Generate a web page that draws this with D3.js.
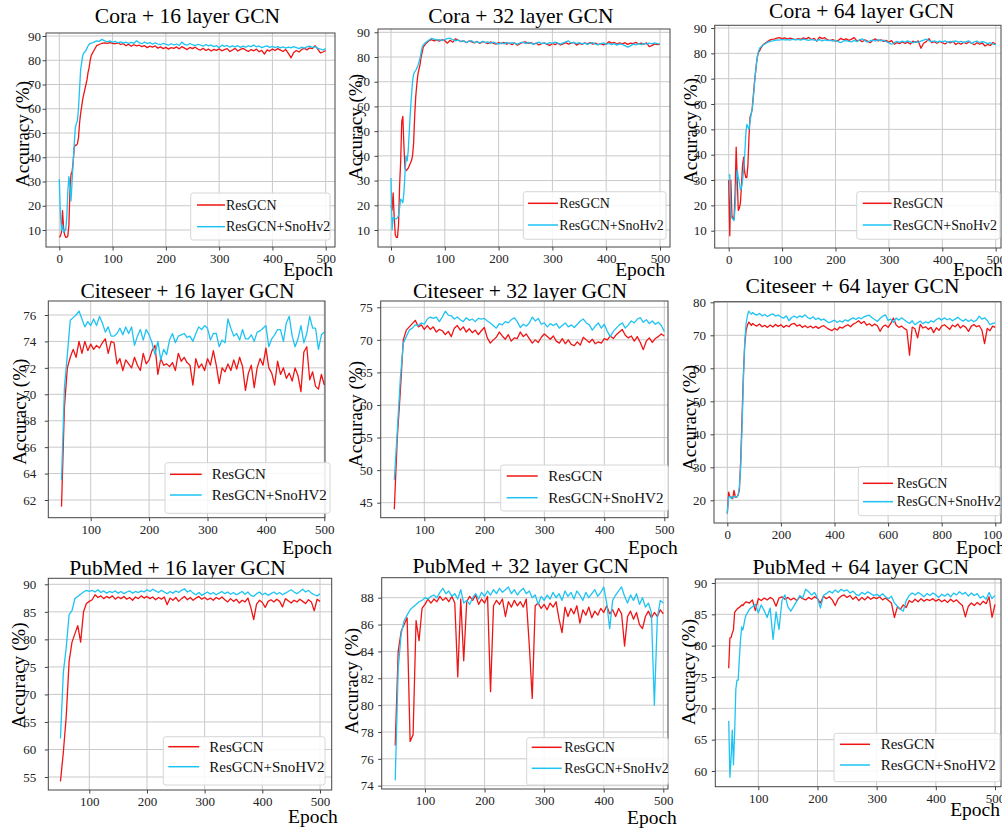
<!DOCTYPE html>
<html><head><meta charset="utf-8">
<script src="https://cdn.jsdelivr.net/npm/d3@7/dist/d3.min.js"></script>
<style>
body{margin:0;background:#fff}
svg{display:block}
text{font-family:"Liberation Serif","Times New Roman",serif}
</style>
</head><body>
<svg id="chart" width="1002" height="832"></svg>
<script>
// ---------- category axes (epochs) ----------
const coraEpochs = d3.range(0, 60, 2).concat(d3.range(60, 501, 5));
const citeseerEpochs = d3.range(50, 501, 5);
const citeseer64Epochs = d3.range(0, 100, 5).concat(d3.range(100, 1001, 10));
const pubmedEpochs = d3.range(50, 501, 5);
const pubmed64Epochs = d3.range(50, 80, 2).concat(d3.range(80, 501, 5));

// ---------- labels ----------
const titles = ["Cora + 16 layer GCN","Cora + 32 layer GCN","Cora + 64 layer GCN",
  "Citeseer + 16 layer GCN","Citeseer + 32 layer GCN","Citeseer + 64 layer GCN",
  "PubMed + 16 layer GCN","PubMed + 32 layer GCN","PubMed + 64 layer GCN"];
const resLabel = "ResGCN";
const snoLabels = ["ResGCN+SnoHv2","ResGCN+SnoHv2","ResGCN+SnoHv2",
  "ResGCN+SnoHV2","ResGCN+SnoHV2","ResGCN+SnoHv2",
  "ResGCN+SnoHV2","ResGCN+SnoHv2","ResGCN+SnoHV2"];
const xLabel = "Epoch";
const yLabel = "Accuracy (%)";

// ---------- tick values ----------
const xTicks500 = [0,100,200,300,400,500];
const xTicks100to500 = [100,200,300,400,500];
const xTicks1000 = [0,200,400,600,800,1000];
const yTicksCora = [10,20,30,40,50,60,70,80,90];
const yTicksCiteseer16 = [62,64,66,68,70,72,74,76];
const yTicksCiteseer32 = [45,50,55,60,65,70,75];
const yTicksCiteseer64 = [20,30,40,50,60,70,80];
const yTicksPubmed16 = [55,60,65,70,75,80,85,90];
const yTicksPubmed32 = [74,76,78,80,82,84,86,88];
const yTicksPubmed64 = [60,65,70,75,80,85,90];

// ---------- series values ----------
const cora16Res = [7,7.5,9,18,11,8,7,7,7.5,12,26,33,34,38,44,45,45,45.5,48,54,58,61,64,66,68,70,72,75,77,80,
 82,84,86,86.5,87,87.2,87,87.3,87,
 86.8,87.2,86.5,86.9,86,86.6,85.8,86.4,85.9,86.2,
 85.6,86,85.2,85.8,85.4,85.9,85,85.5,84.8,85.3,
 84.6,85.2,84.9,85.5,84.7,85.6,85,84.4,85.3,84.8,
 85.4,84.6,84.2,84.9,84,84.6,83.8,84.5,84.1,84.7,
 83.9,84.4,84.8,83.6,84.2,84.9,83.8,84.5,84.9,84.2,
 83.6,84.4,83.9,84.6,83.5,84.1,82.5,84.3,83.8,84.6,
 84,84.8,84.2,83.6,84.4,82.8,81,83.2,84,83.4,
 84.5,84.9,84.3,85.1,84.8,86,84.6,83,83.4,84];
const cora16Sno = [31,17,10,12,9,9.5,10,15,26,32,28,22,30,38,45,52,54,55,60,68,76,79,82,83,83.5,84,85,86,86.5,87,
 87,87.5,88,87.8,88.6,88,87.6,88,87.4,
 87.8,87.2,87.6,87.1,87.5,86.9,87.4,87,88,87.3,
 86.8,87.5,86.9,87.3,86.6,87.2,86.7,86.4,87,86.6,
 86.2,86.8,86.3,86.7,86.1,87.5,86.5,86.2,86.9,86.4,
 86,86.6,86.2,85.8,86.5,85.9,86.3,85.6,86,85.2,
 86.2,85.7,86.1,85.4,85.9,85.5,86,85.3,85.8,85.4,
 85.9,85.6,86.3,85.5,85.9,85.2,85.6,85.9,85.3,85.7,
 85.2,85.6,85.1,85.5,85,85.4,85.1,85.6,85.2,84.8,
 85.4,85,85.5,85.8,85.3,85.6,85,84.6,84.3,84.8];
const cora32Res = [20,18,25,15,8,7,7,12,28,38,54,56,44,35,34,34.5,35,36,37,38,40,45,56,64,69,73,75,77,80,82,
 84,85.5,86.5,87,86.5,86.8,86.4,87,86.6,
 85.6,86.8,86,87.4,86.8,86.2,86.6,85.8,86.5,86.1,
 85.7,86.3,85.5,86.2,85.9,85.4,86.1,85.6,85.2,85.8,
 85.4,85.9,85.2,85.6,85,85.7,84.8,85.4,85.9,86.1,
 85.5,85.8,85.2,85.6,84.9,85.4,85.7,85.1,84.7,85.5,
 85,85.6,84.9,85.3,85.8,85.2,85.6,85.9,84.8,85.5,
 85.1,85.7,85.3,85.8,85.2,85.6,85,85.4,84.9,85.3,
 86.2,85.6,85.9,85.2,85.7,85.3,85.8,85.1,85.6,85.4,
 85.9,85.3,85.6,85.2,85.7,84.2,84.6,85.3,85,85.2];
const cora32Sno = [31,10,15,15,14.5,14.5,15,16,19,22.5,22,21,25,33,40,38,42,50,58,64,70,73,74,74.5,75.5,76.5,78,79.5,82,84,
 85,86,86.8,87.5,87.2,86.8,87,86.6,87.1,
 87.4,87.6,87,86.5,86.9,86.2,86.6,85.9,86.3,86.6,
 85.8,86.2,85.7,86.4,85.8,86.1,85.5,86,85.6,85.2,
 85.7,85.3,85.9,85.4,85.8,85.5,85.2,85.7,86,85.4,
 85.9,85.6,85.1,85.6,86,85.4,85.7,85.3,85.8,85.5,
 86,85.6,85.2,85.7,86.1,86.5,85.6,85.9,85.4,85.8,
 85.3,85.6,85.1,85.5,85.8,85.2,84.9,85.4,85.7,85.1,
 85.5,85,85.4,84.8,85.3,85.1,84.6,84,84.5,85.2,
 84.9,85.4,85,85.5,85.2,85.6,85.3,85.7,85.4,85.2];
const cora64Res = [30,8,30,16,15,14.5,25,43,30,18,19,21,28,36,39,33,31,31,36,47,55,56,58,63,68,72,76,79,80.5,81,
 82,83.5,84.3,85,85.5,85.6,86,86.2,85.8,
 86.1,85.6,86,85.7,85.4,85.8,85.5,86.1,85.6,86.3,
 85.4,85.9,84.8,86.4,85.8,86.2,85.3,85,85.4,84.8,
 85.1,85.9,85.3,85.7,85.1,85.6,86.2,84.9,85.2,84.6,
 85.3,84.8,84.2,85.2,85.7,84.9,85.3,84.7,85.1,84.4,
 85,83.6,84.2,83.8,84.6,83.9,84.4,83.7,84.8,84.3,
 84.9,82,84,84.6,85.8,84.2,84.6,84,84.7,84.2,
 83.7,84.5,84.1,84.8,83.5,84.2,83.6,84.4,83.8,84.6,
 84,83.4,84.2,83.6,84.1,82.9,83.5,83.1,84.3,83.6];
const cora64Sno = [32,32,17,15,14.5,14,19,28,34,31,29,26,27,30,34,40,48,52,51,50,53,56,58,62,67,72,76,79,81,82,
 82.5,83.3,84,84.5,84.8,85,85.3,85.2,85.5,
 85.3,85.4,85.2,85.6,85.3,85.5,85.2,85.6,85.3,85.1,
 85.5,85.2,85,85.4,84.9,85.3,85,85.2,84.8,85.1,
 84.6,84.2,84.9,85,84.7,84.5,85.1,84.6,85.3,85.7,
 85,84.4,84.9,85.2,84.8,85.4,84.9,85.2,84.6,84.1,
 83.6,84.2,84.7,84.3,84.8,84.4,84.9,84.5,84.1,84.6,
 84.3,84.8,85.2,85.6,85,84.6,84.9,84.4,84.8,84.5,
 84.9,84.3,84.7,84.5,84.9,84.4,84.7,84.2,84.6,84.9,
 83.9,84.5,84.8,84.2,84.6,84.3,83.8,84.2,83.6,83.4];

const citeseer16Res = [61.5,
 69,72,72.8,73.4,72.8,74,73.1,74,73.3,73.8,
 73.4,73.7,73.5,73.9,74.2,73.1,74,73.9,72.3,72.7,
 71.8,72.6,72.3,72,72.8,72.2,71.8,73.1,72.3,72.6,
 73.3,73.7,71.5,72.7,72.2,72.3,72.1,72.4,71.8,73.1,
 72.5,72.8,72.4,72.2,70.7,72.7,72,72.3,71.8,72.7,
 72.2,73.3,72.2,70.8,72,71.7,72.3,71.8,72.6,71.9,
 72.8,72.1,70.3,71.6,72.2,70.5,72,72.7,72.2,73.5,
 72,71.6,70.7,72.5,71.5,72,71.2,71.6,71,72,
 71.4,70.2,73.2,73.6,71.1,71.7,70.6,70.4,71.5,70.7];
const citeseer16Sno = [63.5,
 70.5,73,75.6,75.8,76,76.3,75.7,75.1,75.5,75.2,
 75.7,75.2,75.9,75.4,74.7,75.1,74.4,74.4,74.6,75,
 74.5,75.1,74.6,75.1,73.7,74.4,74.9,74.1,74.9,74.5,
 73.9,73,74,72.6,73.4,73,74.1,74.6,73.9,74.4,
 74.5,74.6,74.3,74.4,74,74.6,75.1,74.9,75.2,75,
 74.1,74.6,74.6,73.6,74.1,73.9,75.7,75,74.4,74.6,
 74.1,74.9,74.2,74.2,74.5,74,74.7,74.8,75,75.2,
 73.6,74.2,74.5,74.9,74.9,74,75.4,75.9,74.4,73.6,
 74.2,75.2,73.9,74.6,75.9,75,75,73.4,74.5,74.7];
const citeseer32Res = [44,
 55,62,70,71.5,72,72.5,73,72,72.3,71.6,
 72.2,71.6,72,71.2,71.6,71.4,70.8,71.3,70.5,71.8,
 72.2,71.5,72,71.2,71.7,71.1,71.5,70.8,71.4,71.9,
 70.3,69.5,70,70.4,71.2,70.6,70.1,70.8,69.8,70.3,
 70.2,71.2,70.5,70.9,70.2,69.5,70,69.6,70.4,70.9,
 70.5,70.1,70.6,69.8,69.5,70.2,69.4,70,69.3,69.1,
 69.7,69.2,70.4,70,69.6,70.1,69.4,69.7,69.5,70.2,
 70,70.6,70.2,70.8,71.2,71.6,70.7,70.3,70.6,69.8,
 70.5,69.6,68.5,69.8,70.3,69.6,70.2,70.5,70.9,70.6];
const citeseer32Sno = [48.5,
 56,64,69.5,70.5,71.5,71.8,72.3,72.2,72.6,72.4,
 73.2,73.5,73.3,73.5,72.8,73.5,74.4,73.8,73.7,73.2,
 73.5,73.1,72.8,73.4,73,73.2,72.8,73.3,73.2,73.3,
 72.9,72.6,72.2,71.8,72.5,72.3,72.8,72.6,73.1,73.4,
 72.8,71.9,72.4,72.1,72.6,73.5,72.9,73.3,72.4,72.6,
 72,72.5,72.2,72.5,71.8,72.2,72.6,72,72.3,71.9,
 72.4,72.9,73.2,72.6,72.3,71.5,72.1,72.6,71.8,72.4,
 71.3,70.5,71.3,71.8,72.3,72.6,71.8,72.3,72.9,72.6,
 73.2,73.4,72.7,73.1,72.5,72.9,72.4,72.7,72.2,71.3];
const citeseer64Res = [16,22.5,21,21,20.5,23,21,21,21.5,23,32,45,58,67,71.5,73,74,73.5,73,73.6,
 73.2,
 72.8,73.4,72.6,73,72.4,73.1,72.5,73.3,72.7,73.2,
 72.4,73,72.6,73.4,73.6,72.8,73.2,72.4,72.9,72.3,
 72.8,72.2,72.7,72.1,72.6,72.9,72.3,71.8,71.4,72.1,
 71.6,72.5,72.2,72.8,73.2,72.6,73.4,73.8,74.4,73.6,
 74.2,73.1,73.5,72.8,73.4,72.9,71.2,72.6,73.1,72.4,
 73.6,75.2,73.1,72.4,72.8,72.1,71.6,64,72.5,72,
 69.2,73.3,72.2,72.6,71.8,72.4,70.8,72.3,71.5,72.8,
 73.2,72.5,71.8,73.1,72.6,73.4,72.2,73,72.4,71.2,
 72.7,73.3,72.6,72.9,71.6,67.5,72.1,71.4,72.8,72.4];
const citeseer64Sno = [16,21,21.2,20.5,21,21,21.2,21,21.5,24,30,42,56,68,73.5,76,77.3,76.8,76.4,76.9,
 76.5,
 76.1,76.6,75.9,76.3,75.7,76.2,76.5,75.8,76.1,75.6,
 75.2,75.9,74.4,75.4,75.8,75.3,75.9,75.5,76.2,75.4,
 75,75.6,74.8,75.2,74.6,74.9,74.3,73.8,74.2,74.6,
 73.9,74.4,74,74.7,74.3,74.9,75.3,74.8,75.4,75,
 75.6,75.9,76.1,75.3,74.8,74.2,75.1,75.8,76.2,74.5,
 74.9,73.9,75.2,74.6,75.3,74.7,74.1,73.6,74.4,73.2,
 73.8,74.3,73.5,74.1,73.7,74.4,74,74.8,75.2,74.6,
 75.3,74.7,75.1,74.4,74.9,75.5,74.8,74.3,74.9,74.2,
 74.7,74.1,74.6,75.8,74.9,75.3,74.5,73.2,73.6,73.8];

const pubmed16Res = [54.2,
 59.5,66,76,79.5,81,82.5,79.5,85,86.5,86.9,
 87.2,88.1,87.6,87.9,87.4,87.8,87.5,87.9,87.3,87.7,
 87.4,87.8,87.3,87.6,87.1,87.7,87.4,87.9,87.5,87.8,
 87.4,87.7,87.2,87.6,87.3,87.7,86.3,87.5,87.1,87.6,
 86.9,87.4,87.8,87.2,87.6,87.1,87.5,87.8,87.3,87.6,
 87.2,87.5,87.1,87.6,87.3,87.7,87.2,86.8,87.4,86.9,
 87.3,86.6,87.1,86.8,87.5,85.8,83.6,86.4,87.1,86.7,
 85.8,86.9,87.2,86.8,87.3,86.9,85.9,87.4,87,86.6,
 87.1,86.8,87.3,86.9,86.5,87.2,86.8,85.2,87.3,86.9];
const pubmed16Sno = [62,
 74,78.5,84.5,85.2,87.4,87.8,88.2,88.6,88.9,88.7,
 88.9,88.6,89,88.5,88.8,88.4,88.7,88.5,88.8,88.4,
 88.7,88.3,88.6,88.8,88.4,88.7,88.5,88.8,88.6,89,
 88.7,89.1,88.8,88.5,88.9,88.6,88.3,88.7,88.4,88.8,
 88.5,88.9,89.2,88.6,88.9,88.4,88.1,88.5,88,88.3,
 88.6,88.2,88.5,88.1,88.4,88.7,88.3,88.6,88.2,88.5,
 88.1,88.4,88.7,88.2,88.6,88,87.8,88.3,88.6,88.1,
 88.4,88,88.3,88.6,88.2,88.5,88.1,88.4,88.7,89,
 88.6,88.3,88.7,89.1,88.6,88.9,88.4,88.1,87.9,88.3];
const pubmed32Res = [77,
 84,85.5,86,86.5,77.3,77.8,86.3,84.8,87.2,87.5,
 87.9,87.6,87.9,87.7,88.1,87.8,88,87.7,88.1,87.6,
 82.1,87.9,83.3,87.7,88.1,87.8,88.2,87.5,87.9,87.6,
 88.1,81,87.4,87.8,87.5,87.9,86.6,87.7,87.3,87.8,
 87.4,87.7,87.3,87.9,84.5,80.5,87.4,87.6,87.2,87.5,
 87.1,87.6,87.3,87.7,86.4,85.4,87.3,86.6,87.2,86.8,
 87.4,86.1,87.1,86.7,87.3,86.5,87,86.7,87.2,86.9,
 87.4,86.8,87.1,86.6,87.2,86.8,84.4,86.6,87,86.4,
 86.9,86,85.7,86.6,87,86.5,86.9,86.6,87.1,86.8];
const pubmed32Sno = [74.4,
 82.7,85.3,86.3,86.7,87.1,87.3,87.5,87.7,87.8,88,
 87.9,88.1,88.2,88,88.4,88.7,88.3,88.5,88.1,88.3,
 87.9,88.6,87.6,87.8,87.5,88,88.3,87.9,88.4,88.1,
 88.5,88.2,88.6,88.3,88.7,88.4,88.6,88.8,88.3,88.6,
 88.2,88.5,88.7,88.3,88.5,88,88.2,87.5,88.1,87.8,
 88.2,87.9,88.4,88,88.3,87.8,88.5,88.1,88.4,87.9,
 88.5,88.2,87.8,88.4,88,88.3,88.6,88.1,88.4,88.8,
 87.6,85.7,87.8,88.2,88.5,88.8,88.1,87.6,88.2,87.8,
 88.3,87.5,88,87.3,87.6,86.9,80,86.5,87.8,87.6];
const pubmed64Res = [76.4,81.2,81.3,82,82.5,85.3,85.6,85.8,86,86.1,86.3,86.5,86.4,86.7,86.9,
 87,86.8,87.3,85.6,87.5,
 87.2,87.6,87.3,87.7,87.4,86.3,87.6,87.8,87.4,87.7,
 87.3,87.6,87.2,87.8,87.5,87.3,87.7,87.4,87.8,87.5,
 86.8,87.9,87.5,87.8,87.3,86.4,87.5,87.9,88.1,87.7,
 88,87.4,87.8,87.2,87.7,87.3,87.8,87.4,87.7,87.5,
 87.8,87.3,87.6,87.2,86.8,84.5,86.2,85.8,86.5,86.1,
 87.2,86.9,87.4,87,87.5,87.1,87.4,87.2,87.5,87.1,
 87.4,87,87.3,86.9,87.4,87,87.3,86.8,86.4,84.6,
 86.3,86.8,86.4,86.9,86.5,87.1,86.7,87.8,84.5,86.6];
const pubmed64Sno = [68,59,62,66.5,61,66,73,74.5,74.5,78,81,83,82.5,83.5,84.5,
 85,85.8,86.2,86.6,85.2,
 86.5,85.6,84.5,86,81,85.4,82.6,87.2,88.1,86.2,
 85.5,86.3,87.1,88,87.6,89,88.6,88.1,88.5,87.6,
 86,88,88.3,88.7,88.4,88.9,88.5,89,88.7,88.9,
 88.4,88.7,88.2,88,88.5,88.2,88.6,88.3,88,88.2,
 87.9,88.3,87.8,87.5,87.9,86.8,86.3,85.8,85.5,87.2,
 88,88.4,88.1,88.5,88.2,87.8,88.3,88,88.4,88.1,
 87.7,88.2,87.9,88.3,87.8,88.4,88.1,88.6,88.2,88.5,
 87.9,88.4,88,88.3,87.6,87.9,87.4,88.5,87.5,88];

// ---------- panels (data references) ----------
const panels = [
 {epochs: coraEpochs, res: cora16Res, sno: cora16Sno, xt: xTicks500, yt: yTicksCora},
 {epochs: coraEpochs, res: cora32Res, sno: cora32Sno, xt: xTicks500, yt: yTicksCora},
 {epochs: coraEpochs, res: cora64Res, sno: cora64Sno, xt: xTicks500, yt: yTicksCora},
 {epochs: citeseerEpochs, res: citeseer16Res, sno: citeseer16Sno, xt: xTicks100to500, yt: yTicksCiteseer16},
 {epochs: citeseerEpochs, res: citeseer32Res, sno: citeseer32Sno, xt: xTicks100to500, yt: yTicksCiteseer32},
 {epochs: citeseer64Epochs, res: citeseer64Res, sno: citeseer64Sno, xt: xTicks1000, yt: yTicksCiteseer64},
 {epochs: pubmedEpochs, res: pubmed16Res, sno: pubmed16Sno, xt: xTicks100to500, yt: yTicksPubmed16},
 {epochs: pubmedEpochs, res: pubmed32Res, sno: pubmed32Sno, xt: xTicks100to500, yt: yTicksPubmed32},
 {epochs: pubmed64Epochs, res: pubmed64Res, sno: pubmed64Sno, xt: xTicks100to500, yt: yTicksPubmed64}
];

// ---------- layout (pixel positions, not data) ----------
const layouts = [
 {fr:[46,335,33,247], xm:[0,59.3,500,325.7], ym:[90,36,10,230], tt:[187.5,22.5], yl:[29,134], ep:[333,276,"end"],
  lg:{box:[190.7,193,330,240], lx:[197,225], tx:226, ly:[205,226.7], fs:14}, yp:5},
 {fr:[378,670,29,247], xm:[0,391,500,660], ym:[90,32.3,10,230], tt:[520.8,22.5], yl:[362,127], ep:[665,276,"end"],
  lg:{box:[523.3,191.7,666,239.3], lx:[528,558], tx:559.3, ly:[203.3,225], fs:14}, yp:8},
 {fr:[714.7,1001,25.3,248], xm:[0,728.7,500,995.7], ym:[90,28,10,230.7], tt:[861.7,18.2], yl:[697,131], ep:[953,276,"start"],
  lg:{box:[856.7,191.7,1000,239.3], lx:[862.7,891.7], tx:892.7, ly:[203.3,225], fs:14}, yp:8},
 {fr:[48.3,325,301,517.7], xm:[100,90.7,500,324.3], ym:[76,315,62,500], tt:[187.5,297.5], yl:[25.5,411.7], ep:[332,554,"end"],
  lg:{box:[165,462.7,330,513.3], lx:[170,201.7], tx:211.7, ly:[474.3,495], fs:15}, yp:12},
 {fr:[380.7,668,301,517.7], xm:[100,424.3,500,664.3], ym:[75,307.3,45,502.7], tt:[520,297.5], yl:[362,414], ep:[628,554,"start"],
  lg:{box:[500.7,465,668.3,511], lx:[506.7,537.7], tx:548.3, ly:[476,497.7], fs:15}, yp:8},
 {fr:[714,1001,301.7,523], xm:[0,727.3,800,941.7], ym:[80,302.3,20,500.3], tt:[852.5,293.2], yl:[695.5,418], ep:[956,554,"start"],
  lg:{box:[858.3,466.7,1000,515.7], lx:[863,893], tx:896.7, ly:[483.3,501.7], fs:14}, yp:8},
 {fr:[48.3,331.7,578.3,790], xm:[100,89.3,500,320], ym:[90,584.3,55,777], tt:[177.5,575.2], yl:[25,675.5], ep:[288,823,"start"],
  lg:{box:[163.3,736.7,325,785], lx:[168.3,199.3], tx:209.3, ly:[746.7,766.7], fs:15}, yp:12},
 {fr:[381.7,668,577.7,789], xm:[100,425,500,663.3], ym:[88,597.7,74,785.7], tt:[520.8,572.5], yl:[358,681], ep:[627,824,"start"],
  lg:{box:[526.7,737.7,668.3,785], lx:[531.7,561.7], tx:564.3, ly:[747.3,768.3], fs:14}, yp:8},
 {fr:[715.3,1001,579,786.7], xm:[100,758.3,500,995], ym:[90,583,60,771], tt:[860.8,574.2], yl:[695,672], ep:[1000,815.5,"end"],
  lg:{box:[834,733.3,1000,781.7], lx:[840,870], tx:880.7, ly:[744.3,765], fs:15}, yp:8}
];

const RED = "#f01414";
const CYAN = "#1ec3f3";
const FRAME = "#444";
const GRID = "#c9c9c9";

const svg = d3.select("#chart");
svg.append("rect").attr("width",1002).attr("height",832).attr("fill","#fff");
const defs = svg.append("defs");

panels.forEach((p, i) => {
  const L = layouts[i];
  const [l, r, t, b] = L.fr;
  const x = d3.scaleLinear().domain([L.xm[0], L.xm[2]]).range([L.xm[1], L.xm[3]]);
  const y = d3.scaleLinear().domain([L.ym[0], L.ym[2]]).range([L.ym[1], L.ym[3]]);
  const g = svg.append("g");

  // title (drawn first so the axes background hides descenders, as in the reference)
  g.append("text").attr("x", L.tt[0]).attr("y", L.tt[1]).attr("text-anchor","middle")
    .attr("font-size", 21.5).attr("fill","#000").text(titles[i]);

  g.append("rect").attr("x", l).attr("y", t).attr("width", r - l).attr("height", b - t).attr("fill", "#fff");

  // grid
  g.append("g").selectAll("line").data(p.xt).join("line")
    .attr("x1", d => x(d)).attr("x2", d => x(d)).attr("y1", t).attr("y2", b)
    .attr("stroke", GRID).attr("stroke-width", 1);
  g.append("g").selectAll("line").data(p.yt).join("line")
    .attr("x1", l).attr("x2", r).attr("y1", d => y(d)).attr("y2", d => y(d))
    .attr("stroke", GRID).attr("stroke-width", 1);

  // clip
  defs.append("clipPath").attr("id", "clip" + i).append("rect")
    .attr("x", l).attr("y", t).attr("width", r - l).attr("height", b - t);

  const line = d3.line().x(d => x(d[0])).y(d => y(d[1]));
  const lg = g.append("g").attr("clip-path", `url(#clip${i})`);
  lg.append("path").datum(d3.zip(p.epochs, p.res)).attr("d", line)
    .attr("fill","none").attr("stroke", RED).attr("stroke-width", 1.3).attr("stroke-linejoin","round");
  lg.append("path").datum(d3.zip(p.epochs, p.sno)).attr("d", line)
    .attr("fill","none").attr("stroke", CYAN).attr("stroke-width", 1.3).attr("stroke-linejoin","round");

  // frame
  g.append("rect").attr("x", l).attr("y", t).attr("width", r - l).attr("height", b - t)
    .attr("fill","none").attr("stroke", FRAME).attr("stroke-width", 1);

  // axes
  const xa = g.append("g").attr("transform", `translate(0,${b})`)
    .call(d3.axisBottom(x).tickValues(p.xt).tickFormat(d3.format("d")).tickSize(3.5).tickPadding(3.5));
  const ya = g.append("g").attr("transform", `translate(${l},0)`)
    .call(d3.axisLeft(y).tickValues(p.yt).tickFormat(d3.format("d")).tickSize(3.5).tickPadding(L.yp - 3.5));
  [xa, ya].forEach(a => {
    a.select(".domain").remove();
    a.attr("font-family", null).attr("font-size", null);
    a.selectAll(".tick line").attr("stroke", FRAME);
    a.selectAll(".tick text").attr("font-size", 13).attr("fill", "#222")
      .style("font-family", '"Liberation Serif","Times New Roman",serif');
  });

  // axis labels
  g.append("text").attr("transform", `translate(${L.yl[0]},${L.yl[1]}) rotate(-90)`)
    .attr("text-anchor","middle").attr("font-size", 19).attr("fill","#000").text(yLabel);
  g.append("text").attr("x", L.ep[0]).attr("y", L.ep[1]).attr("text-anchor", L.ep[2])
    .attr("font-size", 19.5).attr("fill","#000").text(xLabel);

  // legend
  const G = L.lg;
  const leg = g.append("g");
  leg.append("rect").attr("x", G.box[0]).attr("y", G.box[1])
    .attr("width", G.box[2] - G.box[0]).attr("height", G.box[3] - G.box[1])
    .attr("rx", 2.5).attr("fill", "#fff").attr("fill-opacity", 0.85)
    .attr("stroke", "#d6d6d6").attr("stroke-width", 1);
  const entries = [[resLabel, RED], [snoLabels[i], CYAN]];
  entries.forEach((e, k) => {
    leg.append("line").attr("x1", G.lx[0]).attr("x2", G.lx[1]).attr("y1", G.ly[k]).attr("y2", G.ly[k])
      .attr("stroke", e[1]).attr("stroke-width", 1.5);
    leg.append("text").attr("x", G.tx).attr("y", G.ly[k] + G.fs * 0.33)
      .attr("font-size", G.fs).attr("fill", "#111").text(e[0]);
  });
});
</script>
</body></html>
